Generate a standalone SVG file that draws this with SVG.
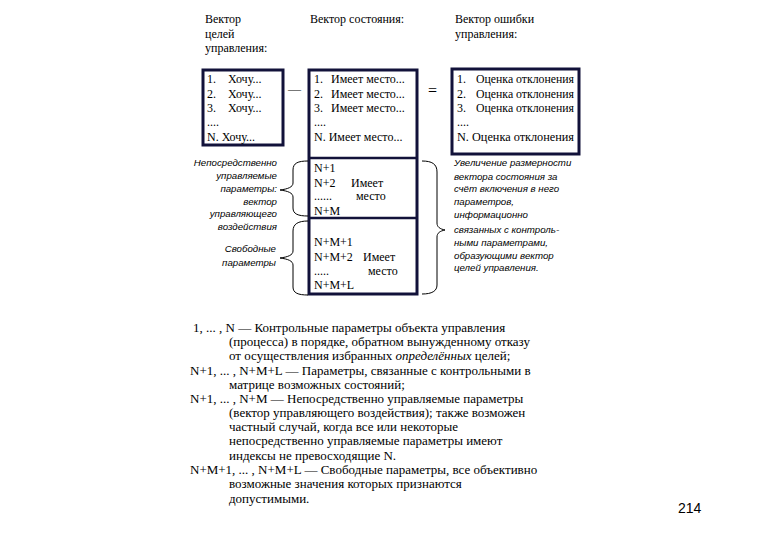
<svg xmlns="http://www.w3.org/2000/svg" width="780" height="540" viewBox="0 0 780 540">
<style>
.t{font-family:"Liberation Serif","Times New Roman",serif;font-size:12px;fill:#000}
.p{font-family:"Liberation Serif","Times New Roman",serif;font-size:13px;fill:#000}
.i{font-family:"Liberation Sans",Arial,sans-serif;font-size:9.7px;font-style:italic;fill:#000}
.box{fill:#fff;stroke:#12123a;stroke-width:3}
.div{stroke:#12123a;stroke-width:2.5}
.br{fill:none;stroke:#000;stroke-width:1}
.op{font-family:"Liberation Serif","Times New Roman",serif;fill:#000}
</style>
<rect width="780" height="540" fill="#fff"/>
<g id="headers">
<text class="t" x="205" y="23">Вектор</text>
<text class="t" x="205" y="38">целей</text>
<text class="t" x="205" y="52">управления:</text>
<text class="t" x="310" y="23">Вектор состояния:</text>
<text class="t" x="455" y="23">Вектор ошибки</text>
<text class="t" x="455" y="38">управления:</text>
</g>
<g id="goals">
<rect class="box" x="203" y="70" width="80" height="75"/>
<text class="t" x="207" y="83">1.</text><text class="t" x="228" y="83">Хочу...</text>
<text class="t" x="207" y="98">2.</text><text class="t" x="228" y="98">Хочу...</text>
<text class="t" x="207" y="112">3.</text><text class="t" x="228" y="112">Хочу...</text>
<text class="t" x="207" y="126">....</text>
<text class="t" x="207" y="141">N. Хочу...</text>
</g>
<g id="minus"><text class="op" x="288" y="93" font-size="13px">—</text></g>
<g id="state">
<rect class="box" x="309" y="70" width="108" height="224"/>
<line class="div" x1="309" y1="158" x2="417" y2="158"/>
<line class="div" x1="309" y1="218" x2="417" y2="218"/>
<text class="t" x="314" y="83">1.</text><text class="t" x="331" y="83">Имеет место...</text>
<text class="t" x="314" y="98">2.</text><text class="t" x="331" y="98">Имеет место...</text>
<text class="t" x="314" y="112">3.</text><text class="t" x="331" y="112">Имеет место...</text>
<text class="t" x="314" y="126">....</text>
<text class="t" x="314" y="141">N. Имеет место...</text>
<text class="t" x="314" y="172">N+1</text>
<text class="t" x="314" y="187">N+2</text><text class="t" x="351" y="187">Имеет</text>
<text class="t" x="314" y="200">......</text><text class="t" x="356" y="200">место</text>
<text class="t" x="314" y="215">N+M</text>
<text class="t" x="314" y="246">N+M+1</text>
<text class="t" x="314" y="261">N+M+2</text><text class="t" x="363" y="261">Имеет</text>
<text class="t" x="314" y="275">.....</text><text class="t" x="368" y="275">место</text>
<text class="t" x="314" y="289">N+M+L</text>
</g>
<g id="equals"><text class="op" x="428" y="96" font-size="16px">=</text></g>
<g id="error">
<rect class="box" x="452" y="69" width="127" height="85"/>
<text class="t" x="457" y="83">1.</text><text class="t" x="476" y="83" textLength="98" lengthAdjust="spacingAndGlyphs">Оценка отклонения</text>
<text class="t" x="457" y="98">2.</text><text class="t" x="476" y="98" textLength="98" lengthAdjust="spacingAndGlyphs">Оценка отклонения</text>
<text class="t" x="457" y="112">3.</text><text class="t" x="476" y="112" textLength="98" lengthAdjust="spacingAndGlyphs">Оценка отклонения</text>
<text class="t" x="457" y="126">....</text>
<text class="t" x="457" y="141" textLength="117" lengthAdjust="spacingAndGlyphs">N. Оценка отклонения</text>
</g>
<g id="connectors">
<path class="br" d="M308,161 C298,161 293,163 293,170 L293,183 C293,187 288,189 280,190 C288,191 293,193 293,197 L293,208 C293,214 298,216 308,216"/>
<path class="br" d="M308,221 C298,221 293,224 293,231 L293,251 C293,255 288,257 280,258 C288,259 293,261 293,265 L293,287 C293,293 298,295 308,295"/>
<path class="br" d="M422,161 C432,161 437,164 437,172 L437,223 C437,227 440,229 445,230 C440,231 437,233 437,237 L437,285 C437,291 432,294 422,294"/>
</g>
<g id="left-notes">
<text class="i" x="277" y="166" text-anchor="end">Непосредственно</text>
<text class="i" x="277" y="179" text-anchor="end">управляемые</text>
<text class="i" x="277" y="192" text-anchor="end">параметры:</text>
<text class="i" x="277" y="205" text-anchor="end">вектор</text>
<text class="i" x="277" y="217" text-anchor="end">управляющего</text>
<text class="i" x="277" y="230" text-anchor="end">воздействия</text>
<text class="i" x="276" y="252" text-anchor="end">Свободные</text>
<text class="i" x="276" y="266" text-anchor="end">параметры</text>
</g>
<g id="right-notes">
<text class="i" x="454" y="166">Увеличение размерности</text>
<text class="i" x="454" y="180">вектора состояния за</text>
<text class="i" x="454" y="192">счёт включения в него</text>
<text class="i" x="454" y="205">параметров,</text>
<text class="i" x="454" y="218">информационно</text>
<text class="i" x="454" y="233">связанных с контроль-</text>
<text class="i" x="454" y="246">ными параметрами,</text>
<text class="i" x="454" y="259">образующими вектор</text>
<text class="i" x="454" y="271">целей управления.</text>
</g>
<g id="legend">
<text class="p" x="193" y="332">1, ... , N — Контрольные параметры объекта управления</text>
<text class="p" x="229" y="346">(процесса) в порядке, обратном вынужденному отказу</text>
<text class="p" x="229" y="360">от осуществления избранных <tspan font-style="italic">определённых</tspan> целей;</text>
<text class="p" x="190" y="375">N+1, ... , N+M+L — Параметры, связанные с контрольными в</text>
<text class="p" x="229" y="389">матрице возможных состояний;</text>
<text class="p" x="190" y="403">N+1, ... , N+M — Непосредственно управляемые параметры</text>
<text class="p" x="229" y="417">(вектор управляющего воздействия); также возможен</text>
<text class="p" x="229" y="431">частный случай, когда все или некоторые</text>
<text class="p" x="229" y="445">непосредственно  управляемые параметры имеют</text>
<text class="p" x="229" y="460">индексы не превосходящие N.</text>
<text class="p" x="190" y="474">N+M+1, ... , N+M+L — Свободные параметры, все объективно</text>
<text class="p" x="229" y="488">возможные значения которых признаются</text>
<text class="p" x="229" y="503">допустимыми.</text>
</g>
<g id="page"><text x="678" y="513" font-family="Liberation Sans,Arial,sans-serif" font-size="14px">214</text></g>
</svg>
